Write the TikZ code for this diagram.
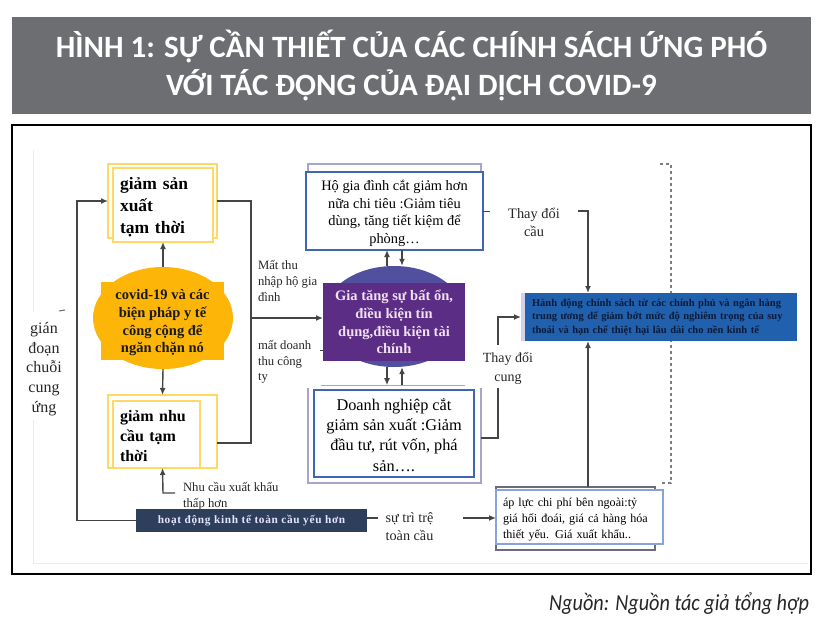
\documentclass[tikz,border=0pt]{standalone}
\usepackage{fontspec}
\usepackage{xcolor}
\setmainfont{Liberation Serif}
\newfontfamily\headfont{Carlito}
\newfontfamily\sourcefont[FakeStretch=0.88]{Carlito}
\usetikzlibrary{arrows.meta,calc,positioning,shapes.geometric}
\definecolor{bannerGray}{HTML}{6D6E71}
\definecolor{lineGray}{HTML}{454545}
\definecolor{paleGray}{HTML}{E9EBEC}
\definecolor{softYellow}{HTML}{FFD966}
\definecolor{covidOrange}{HTML}{FDB507}
\definecolor{boxBlue}{HTML}{3F66B5}
\definecolor{backPurple}{HTML}{A9A4CE}
\definecolor{crisisPurple}{HTML}{5B2D84}
\definecolor{crisisRound}{HTML}{51509F}
\definecolor{policyBlue}{HTML}{2060AC}
\definecolor{policyText}{HTML}{0D1B3A}
\definecolor{econNavy}{HTML}{2E3F5C}
\definecolor{costBlue}{HTML}{86A3DC}
\definecolor{costBack}{HTML}{6D6A80}
\newcommand{\fsize}[2]{\fontsize{#1}{#2}\selectfont}
\tikzset{%
	base/.style     = {rectangle, inner sep=0pt, outer sep=0pt},
	yellowback/.style = {base, draw=softYellow, line width=1.3pt, fill=white},
	yellowbox/.style  = {base, draw=softYellow, line width=1.3pt, fill=white, align=left, font=\bfseries},
	blueback/.style = {base, draw=backPurple, line width=1.2pt, fill=white},
	bluebox/.style  = {base, draw=boxBlue, line width=1.5pt, fill=white, align=center},
	label/.style    = {base, text=black!85, align=left},
	waypoint/.style = {coordinate},
	link/.style     = {draw=lineGray, line width=1.4pt},
	arrow/.style    = {link, -{Latex[length=7pt,width=6pt]}},
}
\begin{document}
\begin{tikzpicture}[x=1pt,y=-1pt]
	\useasboundingbox (0,0) rectangle (826,632);
	% banner and frame
	\node[base, fill=bannerGray, minimum width=799pt, minimum height=97pt, text=white, align=center,
		font=\headfont\bfseries\fsize{31}{38.5}] (banner) at (411.5,65.5)
		{HÌNH 1: SỰ CẦN THIẾT CỦA CÁC CHÍNH SÁCH ỨNG PHÓ\\VỚI TÁC ĐỘNG CỦA ĐẠI DỊCH COVID-9};
	\node[base, draw=black, line width=1.5pt, minimum width=799pt, minimum height=449pt] (frame) at (411.5,349.5) {};
	\node[base, anchor=east, font=\sourcefont\itshape\fsize{23}{28}, text=black!85] (source) at (809,604) {Nguồn: Nguồn tác giả tổng hợp};
	% faint leftovers
	\draw[paleGray, line width=1pt] (33,150) -- (33,312);
	\draw[paleGray, line width=1pt] (33,420) -- (33,563) -- (808,563);
	\draw[lineGray!80, line width=1pt] (59,311) -- (65,310);
	\draw[lineGray!70, line width=1.4pt, dash pattern=on 3pt off 3pt] (660,164) -- (671,164) -- (671,483) -- (660,483);

	% left column
	\node[yellowback, minimum width=109pt, minimum height=74pt] (supplyBack) at (162.5,201) {};
	\node[yellowbox, anchor=north west, minimum width=100pt, minimum height=74pt, text width=86pt, font=\bfseries\fsize{17.5}{22}] (supplyBox) at (113,168)
		{\rule{0pt}{16pt}giảm sản\\xuất\\tạm thời};
	\node[ellipse, fill=covidOrange, inner sep=0pt, minimum width=140pt, minimum height=102pt] (covidRound) at (163,318) {};
	\node[base, fill=covidOrange, minimum width=123pt, minimum height=78pt, align=center, text=black!90, font=\bfseries\fsize{14.5}{17.7}] (covidBox) at (162.5,321)
		{\rule{0pt}{14pt}covid-19 và các\\biện pháp y tế\\công cộng để\\ngăn chặn nó};
	\node[yellowback, minimum width=109pt, minimum height=73pt] (demandBack) at (162.5,431.5) {};
	\node[yellowbox, anchor=south west, minimum width=87pt, minimum height=67pt, text width=73pt, font=\bfseries\fsize{16}{20}] (demandBox) at (113,468)
		{\rule{0pt}{14pt}giảm nhu\\cầu tạm\\thời};
	\node[label, anchor=west, font=\fsize{12.7}{16}] (exportLow) at (183,496) {Nhu cầu xuất khẩu\\thấp hơn};
	\node[base, fill=econNavy, minimum width=231pt, minimum height=23pt, text=white!90!blue, font=\bfseries\fsize{11.3}{13}\addfontfeature{LetterSpace=6}] (econBox) at (251.5,520.5)
		{hoạt động kinh tế toàn cầu yếu hơn};
	\node[label, align=center, font=\fsize{16}{19.7}] (chainBreak) at (44,369) {gián\\đoạn\\chuỗi\\cung\\ứng};

	% centre column
	\node[blueback, minimum width=173pt, minimum height=30pt] (householdBack) at (394.5,179) {};
	\node[bluebox, minimum width=177pt, minimum height=78pt, font=\fsize{14.4}{17.7}] (householdBox) at (394.5,211)
		{\rule{0pt}{15pt}Hộ gia đình cắt giảm hơn\\nữa chi tiêu :Giảm tiêu\\dùng, tăng tiết kiệm để\\phòng…};
	\node[ellipse, fill=crisisRound, inner sep=0pt, minimum width=142pt, minimum height=101pt] (crisisRoundN) at (394,316.5) {};
	\node[base, fill=crisisPurple, minimum width=142pt, minimum height=78pt, align=center, text=white!88!violet, font=\bfseries\fsize{14.5}{17.7}] (crisisBox) at (394,322)
		{Gia tăng sự bất ổn,\\điều kiện tín\\dụng,điều kiện tài\\chính};
	\draw[backPurple, line width=1pt] (321,385) -- (465,385);
	\draw[backPurple, line width=1.2pt] (308,388) -- (308,483) -- (481,483) -- (481,388);
	\node[bluebox, minimum width=160pt, minimum height=87pt, font=\fsize{16.3}{20.2}] (firmBox) at (394,433.5)
		{\rule{0pt}{15pt}Doanh nghiệp cắt\\giảm sản xuất :Giảm\\đầu tư, rút vốn, phá\\sản….};
	\node[label, anchor=west, font=\fsize{12.7}{16}] (incomeLoss) at (258,281) {Mất thu\\nhập hộ gia\\đình};
	\node[label, anchor=west, font=\fsize{12.7}{15.5}] (revenueLoss) at (258,362) {mất doanh\\thu công\\ty};
	\node[label, align=center, font=\fsize{14.2}{18}] (stagnation) at (409.5,527) {sự trì trệ\\toàn cầu};
	\node[label, align=center, font=\fsize{14.4}{18}] (demandShift) at (534,222) {Thay đổi\\cầu};
	\node[label, align=center, font=\fsize{14}{18.5}] (supplyShift) at (508,368.5) {Thay đổi\\cung};

	% right column
	\node[base, fill=backPurple!50, minimum width=20pt, minimum height=48pt] (policyEdge) at (531,317) {};
	\node[base, fill=policyBlue, anchor=west, minimum width=272pt, minimum height=48pt, text width=258pt, align=left, text=policyText,
		font=\bfseries\fsize{10.5}{13.4}] (policyBox) at (525,317)
		{\mbox{Hành động chính sách từ các chính phủ và ngân hàng}\\\mbox{trung ương để giảm bớt mức độ nghiêm trọng của suy}\\\mbox{thoái và hạn chế thiệt hại lâu dài cho nền kinh tế}};
	\node[base, draw=costBack, line width=1.5pt, minimum width=159pt, minimum height=63pt] (costBack) at (575.5,518.5) {};
	\node[base, draw=costBlue, line width=1.2pt, fill=white, anchor=west, minimum width=167pt, minimum height=54pt, text width=160pt, align=left, font=\fsize{12.1}{16}] (costBox) at (496,517)
		{\rule{0pt}{13pt}\hspace*{3.5pt}áp lực chi phí bên ngoài:tỷ\\\hspace*{3.5pt}giá hối đoái, giá cả hàng hóa\\\hspace*{3.5pt}thiết yếu. Giá xuất khẩu..};

	% turning points
	\node[waypoint] (leftBus) at (77,400) {};
	\node[waypoint] (rightBus) at (251,318) {};
	\node[waypoint] (crisisIn) at (323,318) {};
	\node[waypoint] (crisisTick) at (320,350) {};
	\node[waypoint] (demandExit) at (217,443) {};
	\node[waypoint] (exportTurn) at (163,493) {};
	\node[waypoint] (exportEnd) at (175,493) {};
	\node[waypoint] (stagnateIn) at (378,518) {};
	\node[waypoint] (stagnateOut) at (463,518) {};
	\node[waypoint] (econExit) at (367,518) {};
	\node[waypoint] (costIn) at (496,518) {};
	\node[waypoint] (demandStart) at (578,211) {};
	\node[waypoint] (demandDrop) at (588,293) {};
	\node[waypoint] (costRise) at (588,487) {};
	\node[waypoint] (policyRise) at (588,341) {};
	\node[waypoint] (firmExit) at (481,438) {};
	\node[waypoint] (shiftTurn) at (498,438) {};
	\node[waypoint] (shiftTop) at (498,388) {};
	\node[waypoint] (supplyFoot) at (498,345) {};
	\node[waypoint] (policyIn) at (521,317) {};
	\node[waypoint] (householdTick) at (490,211) {};

	% connectors
	\draw[arrow] (econBox.west) -| (leftBus) |- (supplyBack.west);
	\draw[link] (supplyBack.east) -| (rightBus);
	\draw[link] (demandExit) -| (rightBus);
	\draw[arrow] (rightBus) -- (crisisIn);
	\draw[link, line width=.8pt] (crisisTick) -- (crisisBox.west |- crisisTick);
	\draw[arrow] (covidRound.north) -- (supplyBox.south);
	\draw[arrow] (covidRound.south) -- (demandBack.north);
	\draw[arrow] (exportEnd) -- (exportTurn) -- (demandBack.south);
	\draw[link] (econExit) -- (stagnateIn);
	\draw[arrow] (stagnateOut) -- (costIn);
	\draw[arrow] ([xshift=-7pt]crisisRoundN.north) -- ([xshift=-7.5pt]householdBox.south);
	\draw[arrow] ([xshift=7.5pt]householdBox.south) -- ([xshift=8pt]crisisRoundN.north);
	\draw[arrow] ([xshift=-7pt]crisisRoundN.south) -- ([xshift=-7pt,yshift=-18pt]crisisRoundN.south);
	\draw[arrow] ([xshift=8pt,yshift=-18pt]crisisRoundN.south) -- ([xshift=8pt]crisisRoundN.south);
	\draw[link, line width=.8pt] (householdBox.east) -- (householdTick);
	\draw[arrow] (demandStart) -| (demandDrop);
	\draw[arrow] (costRise) -- (policyRise);
	\draw[link] (firmExit) -- (shiftTurn) -- (shiftTop);
	\draw[arrow] (supplyFoot) |- (policyIn);
\end{tikzpicture}
\end{document}
